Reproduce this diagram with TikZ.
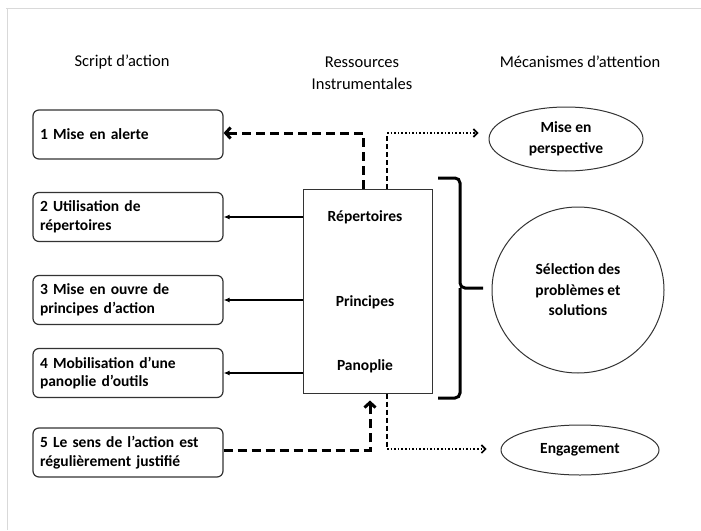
\documentclass[tikz,border=0pt]{standalone}
\usepackage{fontspec}
\setmainfont{Carlito}
\usetikzlibrary{arrows.meta,shapes.geometric}
\tikzset{
  actbox/.style={draw=black!80, line width=1.2pt, rounded corners=6pt, minimum width=190pt,
    minimum height=49pt, text width=176pt, align=left, inner sep=0pt,
    font=\fontsize{15.5}{18.5}\selectfont\bfseries},
  head/.style={align=center, font=\fontsize{16.5}{22}\selectfont},
  restext/.style={font=\fontsize{15.5}{18}\selectfont\bfseries},
  attn/.style={draw=black!80, line width=1pt, ellipse, align=center, inner sep=0pt,
    font=\fontsize{15.5}{20.5}\selectfont\bfseries},
  plainarrow/.style={line width=1.4pt, -{Latex[length=6pt,width=5pt]}},
  bigdash/.style={line width=3pt, dash pattern=on 9pt off 5pt, -{Straight Barb[length=5pt,width=11pt]}},
  smalldash/.style={line width=1.4pt, dash pattern=on 5pt off 3pt},
  dotarrow/.style={line width=1.6pt, dash pattern=on 1.6pt off 2pt, -{Straight Barb[length=4pt,width=8pt]}}
}
\begin{document}
\begin{tikzpicture}[x=1pt,y=-1pt]
\useasboundingbox (0,0) rectangle (701,530);
% page edge
\draw[black!15, line width=1pt] (6,8) -- (701,8);
\draw[black!15, line width=1pt] (7,8) -- (7,530);
% column titles
\node[head] (t1) at (122,62) {Script d’action};
\node[head] (t2) at (362,73) {Ressources\\Instrumentales};
\node[head] (t3) at (580,62) {Mécanismes d’attention};
% script d'action
\node[actbox] (a1) at (128,134.5) {1 Mise en alerte};
\node[actbox] (a2) at (128,217) {2 Utilisation de\\répertoires};
\node[actbox] (a3) at (128,300) {3 Mise en ouvre de\\principes d’action};
\node[actbox] (a4) at (128,373) {4 Mobilisation d’une\\panoplie d’outils};
\node[actbox] (a5) at (128,452.5) {5 Le sens de l’action est\\régulièrement justifié};
% ressources
\node[draw=black!80, line width=1pt, minimum width=129pt, minimum height=204pt] (res) at (367.5,291) {};
\node[restext] (rep) at (365,217) {Répertoires};
\node[restext] (pri) at (365,302) {Principes};
\node[restext] (pan) at (365,366) {Panoplie};
% attention
\node[attn, minimum width=154pt, minimum height=64pt] (persp) at (566,139) {Mise en\\perspective};
\node[attn, minimum width=172pt, minimum height=166pt] (sel) at (578,290) {Sélection des\\problèmes et\\solutions};
\node[attn, minimum width=158pt, minimum height=50pt] (eng) at (580,450) {Engagement};
% links
\draw[plainarrow] (res.west |- a2.east) -- (a2.east);
\draw[plainarrow] (res.west |- a3.east) -- (a3.east);
\draw[plainarrow] (res.west |- a4.east) -- (a4.east);
\coordinate (tl) at (363,133);
\coordinate (tr) at (387,133);
\coordinate (bl) at (370,450);
\coordinate (br) at (387,449);
\draw[bigdash] (res.north -| tl) -- (tl) -- (tl -| a1.east);
\draw[smalldash] (res.north -| tr) -- (tr);
\draw[dotarrow, shorten >=10pt] (tr) -- (tr -| persp.west);
\draw[bigdash, shorten >=7pt] (a5.east |- bl) -- (bl) -- (res.south -| bl);
\draw[smalldash] (res.south -| br) -- (br);
\draw[dotarrow, shorten >=14pt] (br) -- (br -| eng.west);
% bracket
\draw[line width=3pt, rounded corners=5pt] (438,178) -- (460,178) -- (460,288) -- (483,288);
\draw[line width=3pt, rounded corners=5pt] (438,398) -- (460,398) -- (460,288);
\end{tikzpicture}
\end{document}
